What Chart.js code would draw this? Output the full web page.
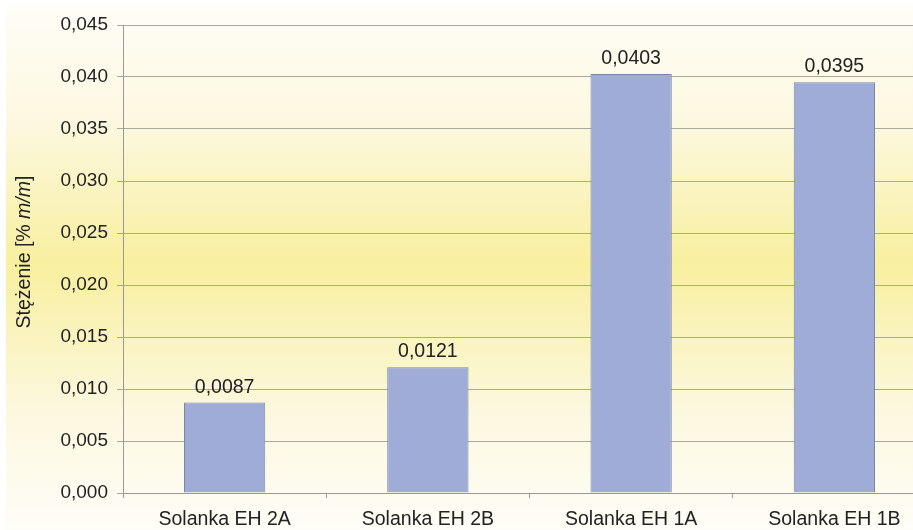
<!DOCTYPE html>
<html>
<head>
<meta charset="utf-8">
<script src="https://cdn.jsdelivr.net/npm/chart.js@4.4.1/dist/chart.umd.min.js"></script>
<style>
  html, body { margin: 0; padding: 0; overflow: hidden; background: #fff; }
  #wrap { width: 936px; height: 530px; }
</style>
</head>
<body>
<div id="wrap"><canvas id="bar_chart"></canvas></div>
<script>
var categories = ["Solanka EH 2A", "Solanka EH 2B", "Solanka EH 1A", "Solanka EH 1B"];
var values = [0.0087, 0.0121, 0.0403, 0.0395];
var yTicks = [0, 0.005, 0.010, 0.015, 0.020, 0.025, 0.030, 0.035, 0.040, 0.045];

var fontFamily = "'Liberation Sans', Arial, sans-serif";

function comma(v, digits) {
  return v.toFixed(digits).replace(".", ",");
}

// yellow wash behind everything
var backdrop = {
  id: "backdrop",
  beforeDraw: function (chart) {
    var c = chart.ctx;
    var h = chart.height;
    var g = c.createLinearGradient(0, 6, 0, h);
    g.addColorStop(0, "#fefdf7");
    g.addColorStop(0.22, "#fcf8e0");
    g.addColorStop(0.49, "#f8ef9f");
    g.addColorStop(0.78, "#fcf8e0");
    g.addColorStop(1, "#fefdf7");
    c.save();
    c.fillStyle = g;
    c.fillRect(6, 6, chart.width - 6, h - 6);
    c.restore();
  }
};

// value above each bar
var barValues = {
  id: "barValues",
  afterDatasetsDraw: function (chart) {
    var c = chart.ctx;
    var meta = chart.getDatasetMeta(0);
    c.save();
    c.font = "19.5px " + fontFamily;
    c.fillStyle = "#222";
    c.textAlign = "center";
    c.textBaseline = "alphabetic";
    meta.data.forEach(function (bar, i) {
      c.fillText(comma(values[i], 4), bar.x, bar.y - 10);
    });
    c.restore();
  }
};

// y axis title, unit in italics
var yTitle = {
  id: "yTitle",
  afterDraw: function (chart) {
    var c = chart.ctx;
    var parts = [["Stężenie [% ", "normal"], ["m/m", "italic"], ["]", "normal"]];
    c.save();
    c.translate(30, 252);
    c.rotate(-Math.PI / 2);
    c.fillStyle = "#222";
    c.textBaseline = "alphabetic";
    var total = 0;
    parts.forEach(function (p) {
      c.font = p[1] + " 19.5px " + fontFamily;
      total += c.measureText(p[0]).width;
    });
    var x = -total / 2;
    parts.forEach(function (p) {
      c.font = p[1] + " 19.5px " + fontFamily;
      c.textAlign = "left";
      c.fillText(p[0], x, 0);
      x += c.measureText(p[0]).width;
    });
    c.restore();
  }
};

var ctx = document.getElementById("bar_chart");
var bar_chart = new Chart(ctx, {
  type: "bar",
  data: {
    labels: categories,
    datasets: [{
      data: values,
      backgroundColor: "#a0acd8",
      borderColor: "#7c84a8",
      borderWidth: 1,
      barPercentage: 0.4,
      categoryPercentage: 1
    }]
  },
  plugins: [backdrop, barValues, yTitle],
  options: {
    responsive: true,
    maintainAspectRatio: false,
    animation: false,
    layout: { padding: { top: 25, left: 0, right: 0, bottom: 0 } },
    plugins: {
      legend: { display: false },
      tooltip: { enabled: false }
    },
    scales: {
      x: {
        grid: {
          offset: true,
          drawOnChartArea: false,
          drawTicks: true,
          tickLength: 5,
          color: "#999"
        },
        border: { color: "#999" },
        ticks: {
          color: "#222",
          padding: 10,
          font: { family: fontFamily, size: 19.5 }
        },
        afterFit: function (scale) { scale.height = 37; }
      },
      y: {
        min: 0,
        max: 0.045,
        afterBuildTicks: function (scale) {
          scale.ticks = yTicks.map(function (v) { return { value: v }; });
        },
        grid: {
          color: "#a8a8a0",
          tickLength: 6,
          drawTicks: true
        },
        border: { color: "#999" },
        ticks: {
          color: "#222",
          padding: 9,
          font: { family: fontFamily, size: 19 },
          callback: function (v) { return comma(v, 3); }
        },
        afterFit: function (scale) { scale.width = 123; }
      }
    }
  }
});
</script>
</body>
</html>
